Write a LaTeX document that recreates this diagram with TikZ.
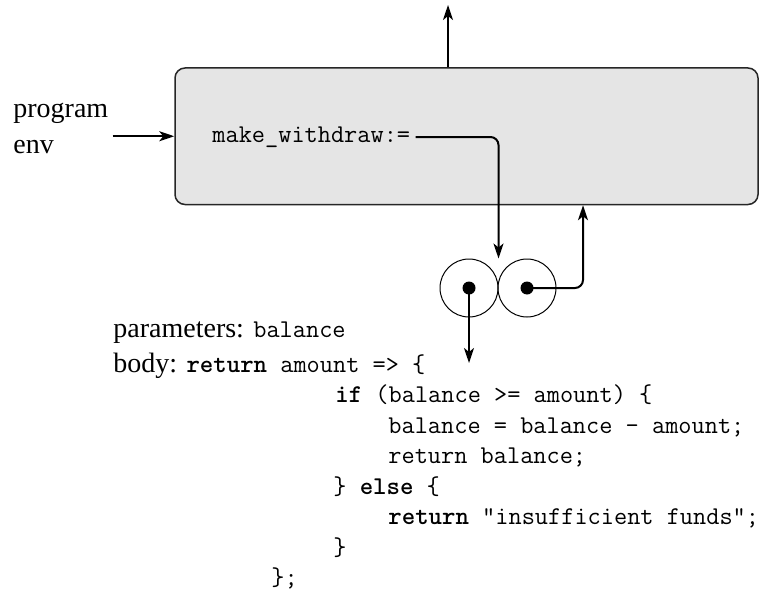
\documentclass[tikz,border=0pt]{standalone}
\usepackage{fontspec}
\setmainfont{Liberation Serif}
\usetikzlibrary{arrows.meta}

\newcommand{\cd}{\fontsize{12.8}{15}\selectfont\ttfamily}

\tikzset{
  arr/.style={line width=1pt, -{Stealth[length=7.5pt,width=5pt,inset=2pt]}},
  frame/.style={draw=black!85, fill=black!10, line width=0.75pt, rounded corners=5pt},
  cell/.style={circle, draw, line width=0.5pt, minimum size=29pt, inner sep=0pt},
  dot/.style={circle, fill, minimum size=6.5pt, inner sep=0pt},
  txt/.style={font=\fontsize{14}{17.5}\selectfont, inner sep=0pt},
  code/.style={font=\cd, inner sep=0pt, anchor=base west}
}

\begin{document}
\begin{tikzpicture}[x=0.5pt,y=-0.5pt]
	\useasboundingbox (0,0) rectangle (769,599);
	% environment frame
	\node[frame, minimum width=291.5pt, minimum height=68.25pt] (env) at (466.5,136.25) {};
	\node[txt, align=left, anchor=base west] (penv) at (13,153) {program\\env};
	\node[code, anchor=west, inner sep=2pt] (mw) at (208,137) {make\_withdraw:=};
	% procedure object
	\node[cell] (car) at (469,288) {};
	\node[cell] (cdr) at (527,288) {};
	\node[dot] (pcar) at (car.center) {};
	\node[dot] (pcdr) at (cdr.center) {};
	\coordinate (ptr) at (car.east |- car.north);
	\coordinate (up) at (448,5);
	\coordinate (ret) at (583,0);
	\coordinate (bodyptr) at (469,363);
	% parameters and body
	\node[txt, anchor=base west] (params) at (113,337) {parameters: {\cd balance}};
	\node[txt, anchor=base west] (body) at (113,372) {body: {\cd\textbf{return} amount => \{}};
	\node[code] (ln1) at (335,402.5) {\textbf{if} (balance >= amount) \{};
	\node[code] (ln2) at (388,433) {balance = balance - amount;};
	\node[code] (ln3) at (388,463.5) {return balance;};
	\node[code] (ln4) at (333,494) {\} \textbf{else} \{};
	\node[code] (ln5) at (388,524.5) {\textbf{return} "insufficient funds";};
	\node[code] (ln6) at (333,555) {\}};
	\node[code] (ln7) at (271,585.5) {\};};
	% pointers
	\draw[arr] (env.north -| up) -- (up);
	\draw[arr] ([xshift=2pt]penv.east |- env.west) -- (env.west);
	\draw[arr, rounded corners=4pt] ([xshift=0.5pt]mw.east) -| (ptr);
	\draw[arr, rounded corners=4pt] (pcdr.center) -| (env.south -| ret);
	\draw[arr] (pcar.center) -- (bodyptr);
\end{tikzpicture}
\end{document}
